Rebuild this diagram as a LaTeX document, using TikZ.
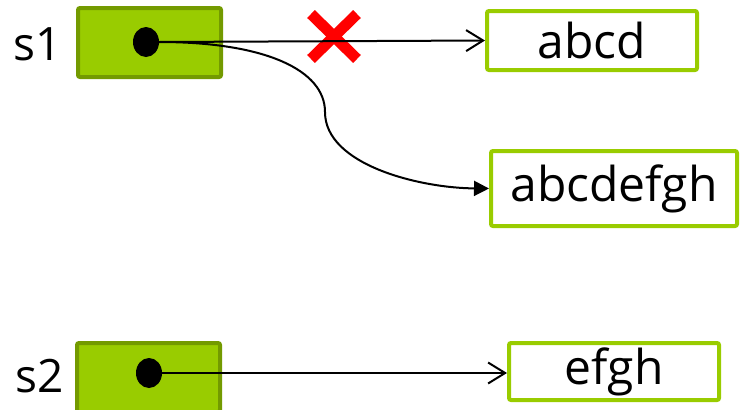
\documentclass[tikz,border=0pt]{standalone}
\usepackage{fontspec}
\setmainfont{Open Sans}
\usetikzlibrary{arrows.meta,shapes.geometric}
\definecolor{lime}{HTML}{99CC00}
\definecolor{darklime}{HTML}{739A00}
\definecolor{xred}{HTML}{FF0000}
\begin{document}
\begin{tikzpicture}[x=1pt,y=-1pt,
  varbox/.style={draw=darklime,fill=lime,line width=4pt,rounded corners=2pt,minimum width=143pt,minimum height=69pt,inner sep=0pt},
  strbox/.style={draw=lime,fill=white,line width=4pt,rounded corners=2pt,inner sep=0pt,font=\fontsize{48}{52}\selectfont},
  lbl/.style={font=\fontsize{46}{50}\selectfont,inner sep=0pt},
  ptrdot/.style={fill=black,draw=none,ellipse,minimum width=26pt,minimum height=30pt,inner sep=0pt},
  ptr/.style={line width=2pt,-{Straight Barb[length=17pt,width=21pt,line width=2pt]}},
  cptr/.style={line width=2pt,-{Triangle[length=15pt,width=15pt]}},
  crossline/.style={draw=xred,line width=11pt}
]
\useasboundingbox (0,0) rectangle (740,410);
\node[varbox] (s1box) at (149.5,42.5) {};
\node[varbox] (s2box) at (148.5,377.5) {};
\node[lbl,anchor=east] (s1) at (62,44) {s1};
\node[lbl,anchor=east] (s2) at (64,376) {s2};
\node[strbox,minimum width=210pt,minimum height=59pt] (abcd) at (592,40.5) {abcd};
\node[strbox,minimum width=246pt,minimum height=75pt] (abcdefgh) at (614,188.5) {abcdefgh};
\node[strbox,minimum width=210pt,minimum height=57pt] (efgh) at (614,371.5) {efgh};
\node[ptrdot] (p1) at (146,42) {};
\node[ptrdot] (p2) at (149,373) {};
\coordinate (xa) at (311,14);
\coordinate (xb) at (357,59);
\coordinate (xc) at (357,14);
\coordinate (xd) at (311,59);
\draw[crossline] (xa) -- (xb);
\draw[crossline] (xc) -- (xd);
\draw[ptr] (p1.east) -- (abcd.west);
\draw[cptr] (p1.east) .. controls (265,42) and (325,70) .. (325,112) .. controls (325,165) and (420,188) .. (abcdefgh.west);
\draw[ptr] (p2.east) -- (efgh.west |- p2.east);
\end{tikzpicture}
\end{document}
